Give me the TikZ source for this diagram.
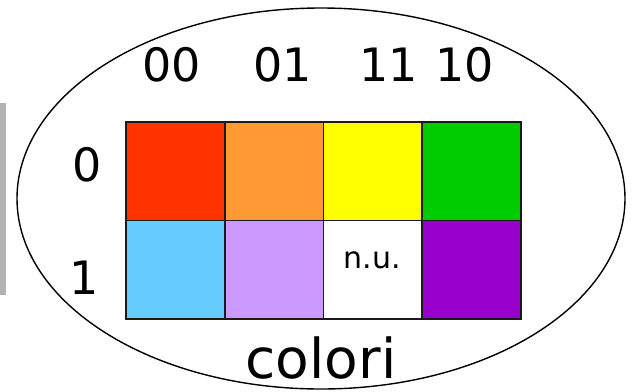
\documentclass[tikz,border=0pt]{standalone}
\usepackage{fontspec}
\setmainfont{DejaVu Sans}
\definecolor{cRed}{HTML}{FF3300}
\definecolor{cOrange}{HTML}{FF9933}
\definecolor{cYellow}{HTML}{FFFF00}
\definecolor{cGreen}{HTML}{00CC00}
\definecolor{cBlue}{HTML}{66CCFF}
\definecolor{cLilac}{HTML}{CC99FF}
\definecolor{cPurple}{HTML}{9900CC}
\definecolor{cGrey}{HTML}{B3B3B3}
\definecolor{cLine}{HTML}{1A1A1A}
\begin{document}
\begin{tikzpicture}[x=1pt,y=-1pt,
  cell/.style={draw=cLine,line width=1.8pt,minimum width=98.75pt,minimum height=98.5pt,inner sep=0pt,anchor=north west},
  lab/.style={font=\fontsize{46}{46}\selectfont,inner sep=0pt},
  big/.style={font=\fontsize{55}{55}\selectfont,inner sep=0pt},
  small/.style={font=\fontsize{30}{30}\selectfont,inner sep=0pt}]
\useasboundingbox (0,0) rectangle (632,391);
\fill[cGrey] (0,103) rectangle (6,295);
\draw[line width=1.4pt] (321,198.5) ellipse (304pt and 190.5pt);
\node[cell,fill=cRed]    (a) at (125,121) {};
\node[cell,fill=cOrange] (b) at (223.75,121) {};
\node[cell,fill=cYellow] (c) at (322.5,121) {};
\node[cell,fill=cGreen]  (d) at (421.25,121) {};
\node[cell,fill=cBlue]   (e) at (125,219.5) {};
\node[cell,fill=cLilac]  (f) at (223.75,219.5) {};
\node[cell,fill=white] (g) at (322.5,219.5) {};
\node[small] (nu) at (372,260) {n.u.};
\node[cell,fill=cPurple] (h) at (421.25,219.5) {};
\node[lab] (t1) at (172,65) {00};
\node[lab] (t2) at (283,65) {01};
\node[lab] (t3) at (389,65) {11};
\node[lab] (t4) at (465,65) {10};
\node[lab] (r0) at (87,165) {0};
\node[lab] (r1) at (84,278) {1};
\node[big,anchor=base] (col) at (321,378) {colori};
\end{tikzpicture}
\end{document}
